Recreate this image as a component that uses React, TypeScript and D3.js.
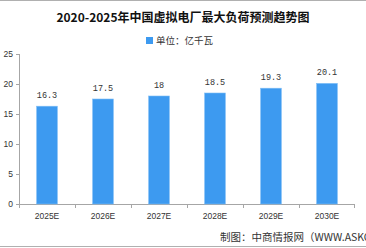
import * as d3 from "d3";

const WIDTH = 366;
const HEIGHT = 248;
const MARGIN = { top: 54, right: 11, bottom: 44, left: 19 };
const INNER_W = WIDTH - MARGIN.left - MARGIN.right;
const INNER_H = HEIGHT - MARGIN.top - MARGIN.bottom;

const TITLE = "2020-2025年中国虚拟电厂最大负荷预测趋势图";
const LEGEND = "单位：亿千瓦";
const SOURCE = "制图：中商情报网（WWW.ASKCI.COM）";

const years = ["2025E", "2026E", "2027E", "2028E", "2029E", "2030E"];
const values = [16.3, 17.5, 18, 18.5, 19.3, 20.1];
const valueLabels = ["16.3", "17.5", "18", "18.5", "19.3", "20.1"];
const yTicks = [0, 5, 10, 15, 20, 25];

const BAR = "#3d9af0";
const AXIS = "#a6a6a6";
const TEXT = "#333";

export default function App() {
  const x = d3.scaleBand<string>().domain(years).range([0, INNER_W]).paddingInner(0.63).paddingOuter(0.315);
  const band = d3.scaleBand<string>().domain(years).range([0, INNER_W]);
  const y = d3.scaleLinear().domain([0, 25]).range([INNER_H, 0]);

  return (
    <svg
      width={WIDTH}
      height={HEIGHT}
      viewBox={`0 0 ${WIDTH} ${HEIGHT}`}
      style={{ position: "absolute", left: 0, top: 0, background: "#fff" }}
      fontFamily="'Noto Sans CJK SC', 'Liberation Sans', sans-serif"
    >
      <line x1={0} x2={WIDTH} y1={0.5} y2={0.5} stroke="#b0b0b0" />
      <line x1={0} x2={WIDTH} y1={246.5} y2={246.5} stroke="#b0b0b0" />

      <text x={WIDTH / 2} y={22} textAnchor="middle" fontSize={12} fontWeight="bold" fill="#111">
        {TITLE}
      </text>

      <rect x={146} y={37} width={7} height={7} fill={BAR} />
      <text x={156} y={44} fontSize={9.5} fill={TEXT}>
        {LEGEND}
      </text>

      <g transform={`translate(${MARGIN.left},${MARGIN.top})`}>
        {/* y axis */}
        <line x1={0.5} x2={0.5} y1={0} y2={INNER_H} stroke={AXIS} />
        {yTicks.map((t) => (
          <g key={t} transform={`translate(0,${Math.round(y(t)) + 0.5})`}>
            <line x1={-3} x2={0} stroke={AXIS} />
            <text x={-6} dy="0.32em" textAnchor="end" fontSize={8.5} fontFamily="'Liberation Sans', sans-serif" fill={TEXT}>
              {t}
            </text>
          </g>
        ))}

        {/* x axis */}
        <line x1={0} x2={INNER_W} y1={INNER_H + 0.5} y2={INNER_H + 0.5} stroke={AXIS} />
        {years.map((c) => (
          <line
            key={c}
            x1={Math.round(band(c) ?? 0) + 0.5}
            x2={Math.round(band(c) ?? 0) + 0.5}
            y1={INNER_H}
            y2={INNER_H + 4}
            stroke={AXIS}
          />
        ))}
        <line x1={INNER_W - 0.5} x2={INNER_W - 0.5} y1={INNER_H} y2={INNER_H + 4} stroke={AXIS} />
        {years.map((c) => (
          <text
            key={c}
            x={(band(c) ?? 0) + band.bandwidth() / 2}
            y={INNER_H + 15}
            textAnchor="middle"
            fontSize={8.5}
            fontFamily="'Liberation Sans', sans-serif"
            fill={TEXT}
          >
            {c}
          </text>
        ))}

        {/* bars */}
        {years.map((c, i) => (
          <g key={c}>
            <rect
              x={x(c) ?? 0}
              y={y(values[i])}
              width={x.bandwidth()}
              height={INNER_H - y(values[i])}
              fill={BAR}
              stroke="#7dbdf6"
              strokeWidth={0.6}
            />
            <text
              x={(x(c) ?? 0) + x.bandwidth() / 2}
              y={y(values[i]) - 8}
              textAnchor="middle"
              fontSize={8.5}
              fontFamily="'Liberation Mono', monospace"
              fill={TEXT}
            >
              {valueLabels[i]}
            </text>
          </g>
        ))}
      </g>

      <text x={220} y={241} fontSize={10.5} fill={TEXT}>
        {SOURCE}
      </text>
    </svg>
  );
}
